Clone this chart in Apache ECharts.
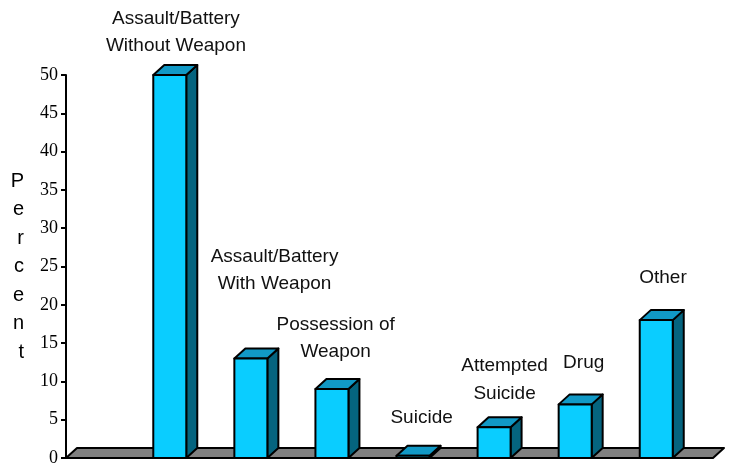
<!DOCTYPE html>
<html>
<head>
<meta charset="utf-8">
<script src="https://cdn.jsdelivr.net/npm/echarts@6/dist/echarts.min.js"></script>
<style>
  html, body { margin: 0; padding: 0; background: #fff; }
  #chart { width: 729px; height: 470px; }
</style>
</head>
<body>
<div id="chart"></div>
<script>
// ---- data ----
const categories = [
  'Assault/Battery\nWithout Weapon',
  'Assault/Battery\nWith Weapon',
  'Possession of\nWeapon',
  'Suicide',
  'Attempted\nSuicide',
  'Drug',
  'Other'
];
const percentValues = [50, 13, 9, 0.3, 4, 7, 18];
const yMin = 0, yMax = 50, yStep = 5;

// ---- layout (label anchor offsets: [category units, value units]) ----
const labelAnchors = [
  [0.076, 55.6], [0.292, 24.5], [0.046, 15.6], [0.106, 5.2],
  [0.129, 10.2], [0.105, 12.4], [0.083, 23.5]
];
const barWidthPx = 33, depthX = 11, depthY = 10;
const FRONT = '#0ACDFF', TOP = '#1199C6', SIDE = '#05647F', FLOOR = '#808080';
const SANS = "'Liberation Sans', Arial, sans-serif";
const SERIF = "'Liberation Serif', 'Times New Roman', serif";

const barData = percentValues.map((v, i) => [i, v, labelAnchors[i][0], labelAnchors[i][1]]);

const chart = echarts.init(document.getElementById('chart'));
chart.setOption({
  animation: false,
  backgroundColor: '#fff',
  grid: { left: 66, right: 16, top: 75, bottom: 12 },
  xAxis: {
    type: 'value', min: -1.28, max: 6.7, show: false
  },
  yAxis: {
    type: 'value', min: yMin, max: yMax, interval: yStep,
    name: 'P\ne\nr\nc\ne\nn\nt',
    nameLocation: 'middle', nameRotate: 0, nameGap: 42,
    nameTextStyle: { fontSize: 20, lineHeight: 28.5, fontFamily: SANS, color: '#000' },
    axisLine: { show: true, onZero: false, lineStyle: { color: '#000', width: 2 } },
    axisTick: { show: true, inside: false, length: 5, lineStyle: { color: '#000', width: 2 } },
    axisLabel: { margin: 8, fontSize: 18, fontFamily: SERIF, color: '#000' },
    splitLine: { show: false }
  },
  series: [
    {
      type: 'custom',
      z: 3,
      data: [[0]],
      renderItem: function (params, api) {
        const cs = params.coordSys;
        const yb = cs.y + cs.height;
        const xl = cs.x, xr = cs.x + cs.width;
        return {
          type: 'polygon',
          shape: { points: [[xl, yb], [xr, yb], [xr + depthX, yb - depthY], [xl + depthX, yb - depthY]] },
          style: { fill: FLOOR, stroke: '#000', lineWidth: 2, lineJoin: 'round' }
        };
      }
    },
    {
      type: 'custom',
      z: 4,
      data: barData,
      renderItem: function (params, api) {
        const x = api.value(0), v = api.value(1);
        const base = api.coord([x, 0]);
        const top = api.coord([x, v]);
        const x0 = base[0] - barWidthPx / 2, x1 = base[0] + barWidthPx / 2;
        const yt = top[1], yb = base[1];
        const lab = api.coord([x + api.value(2), api.value(3)]);
        const st = { stroke: '#000', lineWidth: 2, lineJoin: 'round' };
        return {
          type: 'group',
          children: [
            { type: 'polygon', shape: { points: [[x1, yb], [x1 + depthX, yb - depthY], [x1 + depthX, yt - depthY], [x1, yt]] },
              style: Object.assign({ fill: SIDE }, st) },
            { type: 'polygon', shape: { points: [[x0, yt], [x0 + depthX, yt - depthY], [x1 + depthX, yt - depthY], [x1, yt]] },
              style: Object.assign({ fill: TOP }, st) },
            { type: 'rect', shape: { x: x0, y: yt, width: barWidthPx, height: yb - yt },
              style: Object.assign({ fill: FRONT }, st) },
            { type: 'text', x: lab[0], y: lab[1],
              style: { text: categories[params.dataIndex], align: 'center', verticalAlign: 'middle',
                       font: '19px ' + SANS, lineHeight: 27.5, fill: '#111' } }
          ]
        };
      }
    }
  ]
});
</script>
</body>
</html>
